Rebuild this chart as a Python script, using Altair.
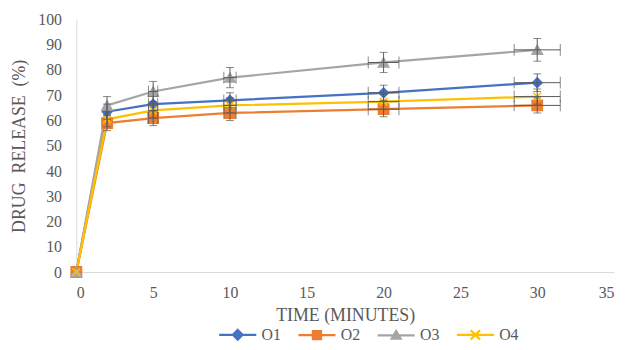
import altair as alt
import pandas as pd

times = [0, 2, 5, 10, 20, 30]
series = ["O1", "O2", "O3", "O4"]
o1 = [0, 63.5, 66.5, 68, 71, 75]
o2 = [0, 59, 61, 63, 64.5, 66]
o3 = [0, 66, 71.5, 77, 83, 88]
o4 = [0, 60.5, 64, 66, 67.5, 69.5]
o1_err = [0, 3, 3, 3, 3, 3.5]
o2_err = [0, 3, 3, 3, 3, 3]
o3_err = [0, 3.5, 4, 4, 4, 4.5]
o4_err = [0, 3, 3, 3, 3, 3]
time_err = [0, 0, 0.3, 0.4, 1, 1.5]

x_ticks = [0, 5, 10, 15, 20, 25, 30, 35]
y_ticks = [0, 10, 20, 30, 40, 50, 60, 70, 80, 90, 100]

colors = ["#4472C4", "#ED7D31", "#A5A5A5", "#FFC000"]
shapes = ["diamond", "square", "triangle-up", "M-1,-1L1,1M-1,1L1,-1"]
sizes = [95, 110, 110, 60]
legend_paths = [
    "M-1,0L1,0M0,-0.26L0.26,0L0,0.26L-0.26,0ZM0,-0.12L0.12,0L0,0.12L-0.12,0Z",
    "M-1,0L1,0M-0.22,-0.22L0.22,-0.22L0.22,0.22L-0.22,0.22ZM-0.1,-0.1L0.1,-0.1L0.1,0.1L-0.1,0.1Z",
    "M-1,0L1,0M0,-0.24L0.24,0.17L-0.24,0.17ZM0,-0.08L0.1,0.1L-0.1,0.1Z",
    "M-1,0L1,0M-0.25,-0.25L0.25,0.25M-0.25,0.25L0.25,-0.25",
]

rows = []
for name, vals, errs in zip(series, [o1, o2, o3, o4], [o1_err, o2_err, o3_err, o4_err]):
    for t, v, e, te in zip(times, vals, errs, time_err):
        rows.append({"series": name, "time": t, "release": v,
                     "ylo": v - e, "yhi": v + e, "yerr": e,
                     "xlo": t - te, "xhi": t + te, "xerr": te})
df = pd.DataFrame(rows)

FONT = "Liberation Serif"
GREY = "#595959"

xs = alt.Scale(domain=[0, 35], nice=False)
ys = alt.Scale(domain=[0, 100], nice=False)
xax = alt.Axis(values=x_ticks, title="TIME\u00a0(MINUTES)", grid=False, ticks=False,
               domainColor="#D9D9D9", labelPadding=13, titlePadding=6, labelOverlap=False)
yax = alt.Axis(values=y_ticks, title="DRUG\u00a0\u00a0RELEASE\u00a0\u00a0(%)", grid=False,
               ticks=False, domainColor="#D9D9D9", labelPadding=15, titlePadding=9,
               labelOverlap=False)


def X(field):
    return alt.X(field, type="quantitative", scale=xs, axis=xax)


def Y(field):
    return alt.Y(field, type="quantitative", scale=ys, axis=yax)


color_scale = alt.Scale(domain=series, range=colors)
leg = alt.Legend(title=None, orient="none", legendX=143, legendY=298, direction="horizontal")

base = alt.Chart(df)

legend_layer = base.mark_point(size=0, filled=False, strokeWidth=2.25, opacity=1).encode(
    x=X("time"), y=Y("release"),
    color=alt.Color("series:N", scale=color_scale, legend=leg),
    shape=alt.Shape("series:N", scale=alt.Scale(domain=series, range=legend_paths), legend=leg),
)

lines = base.mark_line(strokeWidth=2.25).encode(
    x=X("time"), y=Y("release"),
    color=alt.Color("series:N", scale=color_scale, legend=leg),
    order="time:Q",
)

point_layers = []
for name, col, shp, sz in zip(series, colors, shapes, sizes):
    point_layers.append(
        base.transform_filter(alt.datum.series == name).mark_point(
            filled=(name != "O4"), shape=shp, size=sz, color=col, stroke=col,
            strokeWidth=1.5, opacity=1,
        ).encode(x=X("time"), y=Y("release"))
    )

yerr_df = base.transform_filter("datum.yerr > 0")
yrule = yerr_df.mark_rule(color=GREY, strokeWidth=1).encode(
    x=X("time"), y=Y("ylo"), y2="yhi:Q")
ycap_lo = yerr_df.mark_tick(color=GREY, orient="horizontal", size=8, thickness=1).encode(
    x=X("time"), y=Y("ylo"))
ycap_hi = yerr_df.mark_tick(color=GREY, orient="horizontal", size=8, thickness=1).encode(
    x=X("time"), y=Y("yhi"))

xerr_df = base.transform_filter("datum.xerr > 0")
xrule = xerr_df.mark_rule(color=GREY, strokeWidth=1).encode(
    x=X("xlo"), x2="xhi:Q", y=Y("release"))
xcap_lo = xerr_df.mark_tick(color=GREY, orient="vertical", size=12, thickness=1).encode(
    x=X("xlo"), y=Y("release"))
xcap_hi = xerr_df.mark_tick(color=GREY, orient="vertical", size=12, thickness=1).encode(
    x=X("xhi"), y=Y("release"))

chart = alt.layer(
    legend_layer, lines, *point_layers, yrule, ycap_lo, ycap_hi, xrule, xcap_lo, xcap_hi
).properties(
    width=543, height=255,
    autosize=alt.AutoSizeParams(type="none"),
    padding={"left": 69, "top": 10, "right": 4, "bottom": 72},
).configure_view(stroke=None).configure_axis(
    labelFont=FONT, titleFont=FONT, labelFontSize=16, titleFontSize=18,
    labelColor=GREY, titleColor=GREY, titleFontWeight="normal",
).configure_legend(
    symbolSize=1400, symbolStrokeWidth=2.25, symbolOpacity=1,
    labelFontSize=16, labelFont=FONT, labelColor=GREY,
    columnPadding=12, labelOffset=4, padding=0,
)

chart.save("out.html", embed_options={"renderer": "svg", "actions": False})
